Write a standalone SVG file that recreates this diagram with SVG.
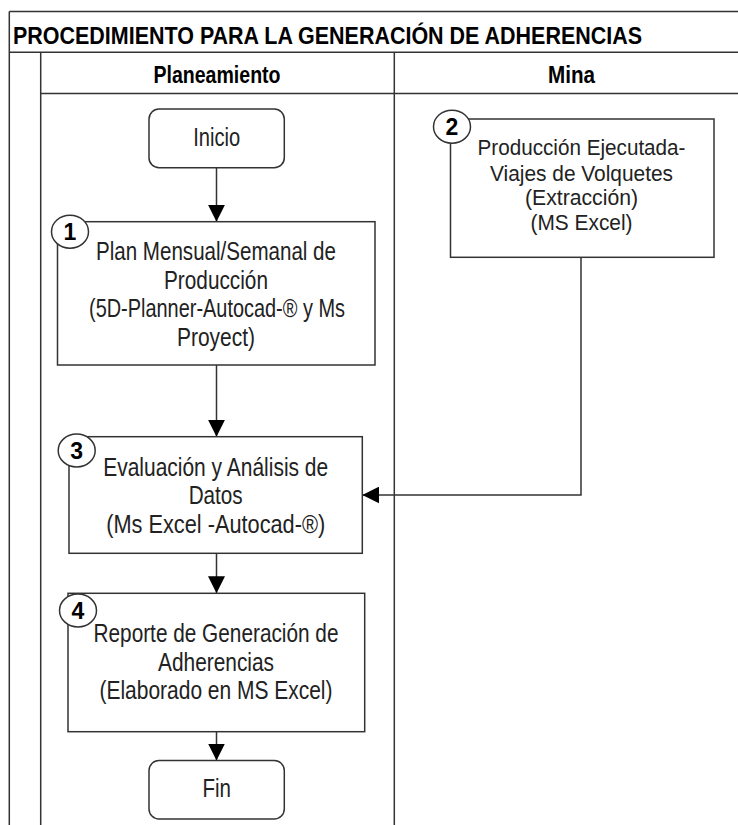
<svg xmlns="http://www.w3.org/2000/svg" width="738" height="825" viewBox="0 0 738 825">
<style>
.ln{stroke:#333;stroke-width:1.5;fill:none}
.bx{stroke:#333;stroke-width:1.5;fill:#fff}
.cn{stroke:#333;stroke-width:1.5;fill:none}
.t{font-family:"Liberation Sans",Arial,sans-serif;font-size:25px;fill:#222;text-anchor:middle}
.s{font-size:22px}
.h{font-family:"Liberation Sans",Arial,sans-serif;font-size:23px;font-weight:bold;fill:#000;text-anchor:middle}
.ti{font-family:"Liberation Sans",Arial,sans-serif;font-size:24.5px;font-weight:bold;fill:#000}
.nc{stroke:#333;stroke-width:1.5;fill:#fff}
.n{font-family:"Liberation Sans",Arial,sans-serif;font-size:23px;font-weight:bold;fill:#000;text-anchor:middle}
</style>
<defs>
<marker id="ah" markerUnits="userSpaceOnUse" markerWidth="17" markerHeight="17" viewBox="0 0 16 16" refX="16" refY="8" orient="auto">
<path d="M0,0 L16,8 L0,16 Z" fill="#000"/>
</marker>
</defs>
<rect width="738" height="825" fill="#fff"/>
<g id="pool">
<line class="ln" x1="9.3" y1="11.5" x2="738" y2="11.5"/>
<line class="ln" x1="9.3" y1="52.3" x2="738" y2="52.3"/>
<line class="ln" x1="40.7" y1="93.5" x2="738" y2="93.5"/>
<line class="ln" x1="9.3" y1="11.5" x2="9.3" y2="825"/>
<line class="ln" x1="40.7" y1="52.3" x2="40.7" y2="825"/>
<line class="ln" x1="394.3" y1="52.3" x2="394.3" y2="825"/>
<text class="ti" x="13" y="43.5" textLength="629" lengthAdjust="spacingAndGlyphs">PROCEDIMIENTO PARA LA GENERACIÓN DE ADHERENCIAS</text>
<text class="h" x="217" y="83" textLength="127" lengthAdjust="spacingAndGlyphs">Planeamiento</text>
<text class="h" x="571.5" y="83" textLength="47" lengthAdjust="spacingAndGlyphs">Mina</text>
</g>
<g id="connectors">
<line class="cn" x1="216.5" y1="167.7" x2="216.5" y2="221.7" marker-end="url(#ah)"/>
<line class="cn" x1="216.5" y1="365" x2="216.5" y2="436.7" marker-end="url(#ah)"/>
<line class="cn" x1="216.5" y1="553.3" x2="216.5" y2="593.3" marker-end="url(#ah)"/>
<line class="cn" x1="216.5" y1="731.7" x2="216.5" y2="760.5" marker-end="url(#ah)"/>
<polyline class="cn" points="581,257.3 581,495 362.3,495" marker-end="url(#ah)"/>
</g>
<g id="inicio">
<rect class="bx" x="149" y="109" width="135.3" height="58.7" rx="10"/>
<text class="t" x="216.7" y="145.7" textLength="47" lengthAdjust="spacingAndGlyphs">Inicio</text>
</g>
<g id="paso1">
<rect class="bx" x="57.5" y="221.7" width="317.5" height="143.3"/>
<ellipse class="nc" cx="70" cy="231.7" rx="18.5" ry="16.5"/>
<text class="n" x="70" y="240">1</text>
<text class="t" x="216" y="260" textLength="240" lengthAdjust="spacingAndGlyphs">Plan Mensual/Semanal de</text>
<text class="t" x="216" y="288.5" textLength="104" lengthAdjust="spacingAndGlyphs">Producción</text>
<text class="t" x="217" y="317" textLength="256" lengthAdjust="spacingAndGlyphs">(5D-Planner-Autocad-® y Ms</text>
<text class="t" x="216" y="345.5" textLength="78" lengthAdjust="spacingAndGlyphs">Proyect)</text>
</g>
<g id="paso2">
<rect class="bx" x="450.5" y="119" width="263.5" height="138.3"/>
<ellipse class="nc" cx="452" cy="126.7" rx="18.5" ry="16.5"/>
<text class="n" x="452" y="135">2</text>
<text class="t s" x="581.5" y="155" textLength="208" lengthAdjust="spacingAndGlyphs">Producción Ejecutada-</text>
<text class="t s" x="581.5" y="180.5" textLength="183" lengthAdjust="spacingAndGlyphs">Viajes de Volquetes</text>
<text class="t s" x="581.5" y="205" textLength="113" lengthAdjust="spacingAndGlyphs">(Extracción)</text>
<text class="t s" x="581.5" y="230" textLength="102" lengthAdjust="spacingAndGlyphs">(MS Excel)</text>
</g>
<g id="paso3">
<rect class="bx" x="69" y="436.7" width="293.3" height="116.6"/>
<ellipse class="nc" cx="76.7" cy="450.5" rx="18.5" ry="16.5"/>
<text class="n" x="76.7" y="458.5">3</text>
<text class="t" x="215.7" y="476" textLength="225" lengthAdjust="spacingAndGlyphs">Evaluación y Análisis de</text>
<text class="t" x="215.7" y="504.3" textLength="54" lengthAdjust="spacingAndGlyphs">Datos</text>
<text class="t" x="215.7" y="532.7" textLength="219" lengthAdjust="spacingAndGlyphs">(Ms Excel -Autocad-®)</text>
</g>
<g id="paso4">
<rect class="bx" x="68" y="593.3" width="296.7" height="138.4"/>
<ellipse class="nc" cx="78" cy="610.5" rx="18.5" ry="16.5"/>
<text class="n" x="78" y="618.5">4</text>
<text class="t" x="216" y="642.3" textLength="245" lengthAdjust="spacingAndGlyphs">Reporte de Generación de</text>
<text class="t" x="216" y="670.7" textLength="116" lengthAdjust="spacingAndGlyphs">Adherencias</text>
<text class="t" x="216" y="699" textLength="233" lengthAdjust="spacingAndGlyphs">(Elaborado en MS Excel)</text>
</g>
<g id="fin">
<rect class="bx" x="149" y="760.5" width="135.3" height="58.5" rx="10"/>
<text class="t" x="216.7" y="797.3" textLength="28.5" lengthAdjust="spacingAndGlyphs">Fin</text>
</g>
</svg>
